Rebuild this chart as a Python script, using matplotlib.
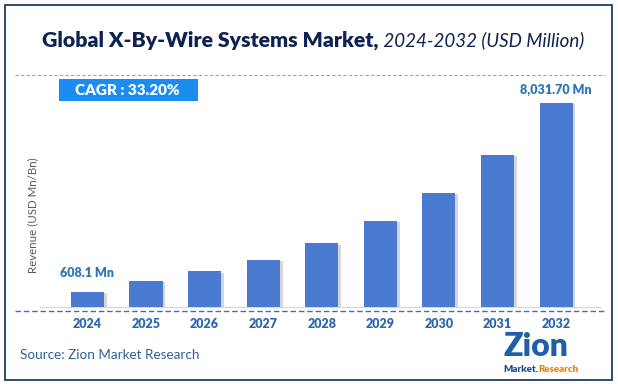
import matplotlib.pyplot as plt
import matplotlib.patheffects as pe
from matplotlib.patches import Rectangle
from matplotlib.lines import Line2D

# data
years = ['2024', '2025', '2026', '2027', '2028', '2029', '2030', '2031', '2032']
revenue = [608.1, 1035, 1405, 1862, 2508, 3386, 4488, 5984, 8031.7]
first_label = '608.1 Mn'
last_label = '8,031.70 Mn'
cagr_text = 'CAGR : 33.20%'

plt.rcParams['font.family'] = ['Lato', 'DejaVu Sans']

W, H = 618, 384
fig = plt.figure(figsize=(W / 100, H / 100), dpi=100)

def fx(px):
    return px / W

def fy(py):
    return 1 - py / H

# outer frame
fig.add_artist(Rectangle((fx(5), fy(380)), fx(607), (375) / H, transform=fig.transFigure,
                         fill=False, edgecolor='#1f3d66', linewidth=1.3))

# title in two parts
t1 = fig.text(0, fy(40), 'Global X-By-Wire Systems Market,', fontsize=15.3, fontweight='heavy',
              color='#0f2350', va='center', ha='left')
t2 = fig.text(0, fy(40.5), ' 2024-2032 (USD Million)', fontsize=13.5, style='italic',
              color='#0f2350', va='center', ha='left')
fig.canvas.draw()
r = fig.canvas.get_renderer()
w1 = t1.get_window_extent(r).width
w2 = t2.get_window_extent(r).width
x0 = (313 - (w1 + w2) / 2)
t1.set_x(x0 / W)
t2.set_x((x0 + w1) / W)

# dashed separators
fig.add_artist(Line2D([fx(15), fx(605)], [fy(75), fy(75)], transform=fig.transFigure,
                      color='#8aa6cf', linestyle=(0, (3, 2)), linewidth=0.8))
fig.add_artist(Line2D([fx(15), fx(605)], [fy(310.5), fy(310.5)], transform=fig.transFigure,
                      color='#3b6fc0', linestyle=(0, (4, 2)), linewidth=1.0))

# CAGR box
fig.add_artist(Rectangle((fx(59), fy(101)), fx(139), 22 / H, transform=fig.transFigure,
                         facecolor='#1b8cf2', edgecolor='none'))
fig.text(fx(127), fy(90.5), cagr_text, fontsize=11, fontweight='heavy', color='white',
         ha='center', va='center')

# bars
ax = fig.add_axes([fx(40), fy(307), fx(560), 237 / H])
x = list(range(len(years)))
bars = ax.bar(x, revenue, width=0.565, color='#4a7bd1', zorder=3)
for b in bars:
    b.set_path_effects([pe.SimplePatchShadow(offset=(2, -1), shadow_rgbFace='#8c8c8c', alpha=0.35),
                        pe.Normal()])
ax.set_xlim(-0.81, 8.75)
ax.set_ylim(0, 9331)
ax.set_xticks(x)
ax.set_xticklabels(years, fontsize=9, fontweight='heavy', color='#2e66b0')
ax.tick_params(axis='x', length=0, pad=8)
ax.set_yticks([])
for s in ['top', 'right', 'left']:
    ax.spines[s].set_visible(False)
ax.spines['bottom'].set_color('#d9d9d9')
ax.spines['bottom'].set_linewidth(1.0)
ax.set_facecolor('none')

ax.annotate(first_label, (x[0], revenue[0]), xytext=(0, 13), textcoords='offset points',
            ha='center', va='center', fontsize=9, fontweight='heavy', color='#2e75b6')
ax.annotate(last_label, (x[-1], revenue[-1]), xytext=(0, 9.5), textcoords='offset points',
            ha='center', va='center', fontsize=9, fontweight='heavy', color='#2e75b6')

# y label
fig.text(fx(33), fy(215), 'Revenue (USD Mn/Bn)', rotation=90, fontsize=8.3, color='#595959',
         ha='center', va='center')

# source
fig.text(fx(20), fy(355), 'Source: Zion Market Research', fontsize=9.7, color='#2e5e9e',
         ha='left', va='center')

# logo
fig.text(fx(536), fy(347), 'Zion', fontsize=23, fontweight='heavy', color='#1f5fa8',
         ha='center', va='center')
m1 = fig.text(fx(503), fy(370), 'Market.', fontsize=7, fontweight='heavy', color='#1f4f8f',
              ha='left', va='center')
fig.canvas.draw()
wm = m1.get_window_extent(fig.canvas.get_renderer()).width
fig.text(fx(503 + wm), fy(370), 'Research', fontsize=7, fontweight='heavy', color='#e8850c',
         ha='left', va='center')

fig.savefig('out.png', dpi=100)
